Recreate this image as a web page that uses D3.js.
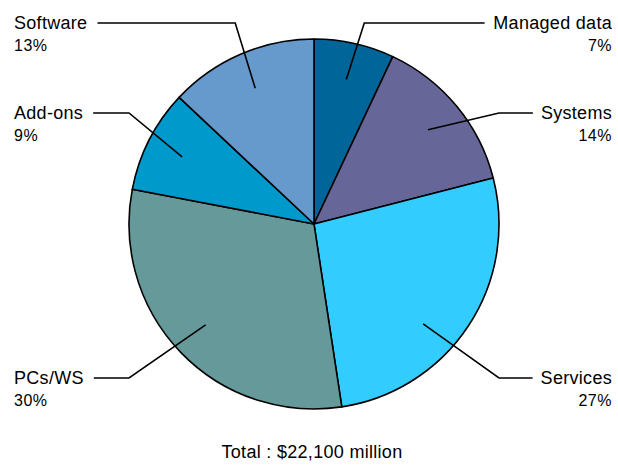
<!DOCTYPE html>
<html>
<head>
<meta charset="utf-8">
<script src="https://cdn.jsdelivr.net/npm/d3@7"></script>
<style>
  html, body { margin: 0; padding: 0; background: #fff; }
  svg { display: block; }
  text { font-family: "Liberation Sans", Arial, sans-serif; fill: #000; }
</style>
</head>
<body>
<svg id="chart" width="618" height="465"></svg>
<script>
// ---- data ----
const categories = ["Managed data", "Systems", "Services", "PCs/WS", "Add-ons", "Software"];
const shares = [7, 14, 26.6, 30.4, 9, 13];          // share of total, %
const shareLabels = ["7%", "14%", "27%", "30%", "9%", "13%"];
const colors = ["#006699", "#666699", "#33CCFF", "#669999", "#0099CC", "#6699CC"];
const totalLabel = "Total : $22,100 million";

// ---- layout ----
const W = 618, H = 465;
const cx = 314, cy = 224, R = 185;
const rowY = { top: 23, mid: 113, bot: 378 };
// per-category label placement: side, row, leader anchor nudge (degrees)
const placement = [
  { side: "right", row: "top", nudge: 0 },
  { side: "right", row: "mid", nudge: 0 },
  { side: "right", row: "bot", nudge: 9 },
  { side: "left",  row: "bot", nudge: 1 },
  { side: "left",  row: "mid", nudge: 0 },
  { side: "left",  row: "top", nudge: 0 }
];

const svg = d3.select("#chart");
const g = svg.append("g").attr("transform", `translate(${cx},${cy})`);

const pie = d3.pie().sort(null).value(d => d)(shares);
const arc = d3.arc().innerRadius(0).outerRadius(R);

g.selectAll("path.slice")
  .data(pie)
  .join("path")
  .attr("class", "slice")
  .attr("d", arc)
  .attr("fill", (d, i) => colors[i])
  .attr("stroke", "#000")
  .attr("stroke-width", 1.6)
  .attr("stroke-linejoin", "round");

function polar(angleRad, r) {
  return [r * Math.sin(angleRad), -r * Math.cos(angleRad)];
}

const labels = svg.append("g");
pie.forEach((d, i) => {
  const p = placement[i];
  const mid = (d.startAngle + d.endAngle) / 2 + p.nudge * Math.PI / 180;
  const inner = polar(mid, R * 0.8);
  const ix = cx + inner[0], iy = cy + inner[1];
  const y = rowY[p.row];
  const right = p.side === "right";

  const name = labels.append("text")
    .attr("x", right ? 612 : 14)
    .attr("y", y + 6)
    .attr("text-anchor", right ? "end" : "start")
    .attr("font-size", 18)
    .attr("letter-spacing", 0.3)
    .text(categories[i]);
  labels.append("text")
    .attr("x", right ? 612 : 14)
    .attr("y", y + 28)
    .attr("text-anchor", right ? "end" : "start")
    .attr("font-size", 16)
    .attr("letter-spacing", 0.5)
    .text(shareLabels[i]);

  const tw = name.node().getBBox().width;
  const lineEnd = right ? 612 - tw - 8 : 14 + tw + 10;

  let ex;
  if (p.row === "top") ex = ix + (right ? 18 : -20);
  else ex = cx + (right ? R : -R);

  labels.append("path")
    .attr("d", d3.line()([[ix, iy], [ex, y], [lineEnd, y]]))
    .attr("fill", "none")
    .attr("stroke", "#000")
    .attr("stroke-width", 1.6);
});

svg.append("text")
  .attr("x", 312)
  .attr("y", 458)
  .attr("text-anchor", "middle")
  .attr("font-size", 18)
  .attr("letter-spacing", 0.3)
  .text(totalLabel);
</script>
</body>
</html>
